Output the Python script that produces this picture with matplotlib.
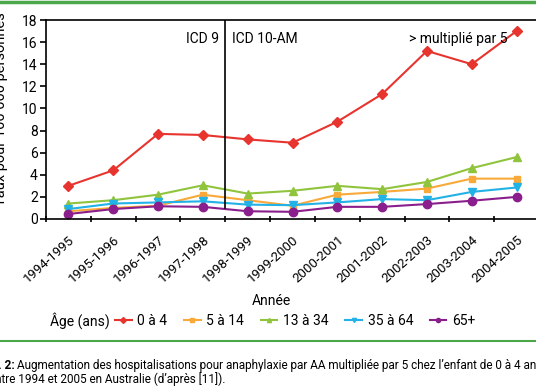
import numpy as np
import matplotlib
matplotlib.use("Agg")
from matplotlib import pyplot as plt
from matplotlib.lines import Line2D

plt.rcParams['font.family'] = ['Roboto', 'DejaVu Sans']

# data
years = ["1994-1995", "1995-1996", "1996-1997", "1997-1998", "1998-1999", "1999-2000",
         "2000-2001", "2001-2002", "2002-2003", "2003-2004", "2004-2005"]
age_0_4 = [3.0, 4.4, 7.7, 7.6, 7.2, 6.9, 8.8, 11.3, 15.2, 14.0, 17.0]
age_5_14 = [0.7, 1.0, 1.2, 2.2, 1.7, 1.2, 2.2, 2.45, 2.75, 3.65, 3.65]
age_13_34 = [1.4, 1.7, 2.2, 3.05, 2.3, 2.55, 3.0, 2.7, 3.35, 4.6, 5.6]
age_35_64 = [0.9, 1.4, 1.5, 1.6, 1.3, 1.25, 1.5, 1.8, 1.7, 2.45, 2.85]
age_65 = [0.45, 0.9, 1.15, 1.1, 0.7, 0.65, 1.1, 1.1, 1.35, 1.65, 2.0]
labels = ["0 à 4", "5 à 14", "13 à 34", "35 à 64", "65+"]

series = [age_0_4, age_5_14, age_13_34, age_35_64, age_65]
colors = ["#e8342e", "#f8a93a", "#8fc43c", "#22b2e6", "#8a1e8c"]
markers = ["D", "s", "^", "v", "o"]
msizes = [5, 5, 6, 6, 6]

W, H = 536, 386
fig = plt.figure(figsize=(W / 100, H / 100), dpi=100)
ax = fig.add_axes([46/W, (H - 219)/H, 493/W, 199/H])

x = np.arange(len(years))
handles = []
for vals, c, m, ms, lab in zip(series, colors, markers, msizes, labels):
    ax.plot(x, vals, color=c, marker=m, markersize=ms, linewidth=1.5, label=lab)
    handles.append(Line2D([0], [0], color=c, marker=m, markersize=3, linewidth=1.5))

ax.plot([3.5, 3.5], [1, 18], color="black", linewidth=1.2)

ax.set_xlim(-0.5, 10.5)
ax.set_ylim(0, 18)
ax.set_yticks(range(0, 19, 2))
ax.set_xticks(np.arange(-0.5, 11, 1), minor=False)
ax.set_xticklabels([])
ax.set_xticks(x, minor=True)
ax.set_xticklabels(years, minor=True, rotation=42, ha="right", rotation_mode="anchor", fontsize=9.5)
ax.tick_params(axis="x", which="minor", length=0, pad=10)
ax.tick_params(axis="x", which="major", length=5, width=1.2, direction="inout")
ax.tick_params(axis="y", length=4, width=1.2, labelsize=10, pad=2)
for s in ["left", "top", "bottom"]:
    ax.spines[s].set_linewidth(1.2)
ax.spines["right"].set_visible(False)

ax.set_ylabel("Taux pour 100 000 personnes", fontsize=10.5)
ax.yaxis.set_label_coords(-38/493, 0.55)
ax.set_xlabel("Année", fontsize=10)
ax.xaxis.set_label_coords((271 - 46)/493, -(294 - 219)/199)

ax.text(3.35, 16.3, "ICD 9", ha="right", va="center", fontsize=10)
ax.text(3.65, 16.3, "ICD 10-AM", ha="left", va="center", fontsize=10)
ax.text(9.8, 16.3, "> multiplié par 5", ha="right", va="center", fontsize=10)

fig.text(50/W, 1 - 321/H, "Âge (ans)", ha="left", va="center", fontsize=10)
fig.legend(handles, labels, loc="center left", bbox_to_anchor=(115/W, 1 - 321/H),
           ncol=5, frameon=False, fontsize=10, handlelength=1.2, handletextpad=0.4,
           columnspacing=1.2, borderaxespad=0, borderpad=0)

# green rules
fig.add_artist(Line2D([0, 1], [1 - 1.5/H, 1 - 1.5/H], color="#4aa84a", linewidth=2.5))
fig.add_artist(Line2D([0, 1], [1 - 341/H, 1 - 341/H], color="#4aa84a", linewidth=1.5))

fig.text(15/W, 1 - 365/H, "Fig. 2:", ha="right", va="center", fontsize=8.5, fontweight="bold")
fig.text(17/W, 1 - 365/H, "Augmentation des hospitalisations pour anaphylaxie par AA multipliée par 5 chez l\u2019enfant de 0 à 4 ans",
         ha="left", va="center", fontsize=8.5)
fig.text(-11/W, 1 - 379/H, "entre 1994 et 2005 en Australie (d\u2019après [11]).", ha="left", va="center", fontsize=8.5)

fig.savefig("out.png", dpi=100)
